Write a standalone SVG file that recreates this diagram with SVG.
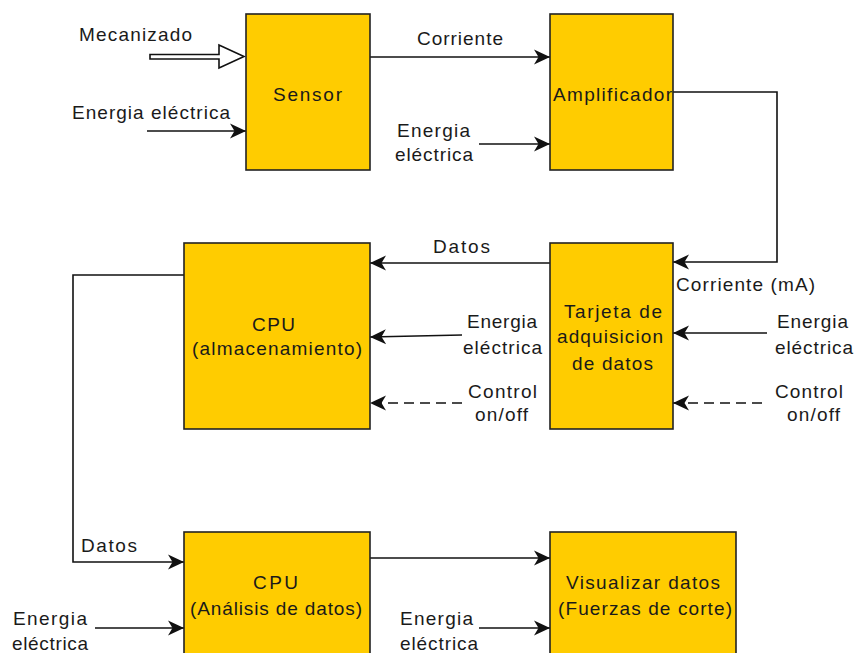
<svg xmlns="http://www.w3.org/2000/svg" width="854" height="653" viewBox="0 0 854 653">
<style>
.box{fill:#ffcc00;stroke:#222;stroke-width:1.6}
.ln{fill:none;stroke:#111;stroke-width:1.6}
.dash{stroke-dasharray:10 6}
text{font-family:"Liberation Sans",Arial,sans-serif;font-size:19px;fill:#1a1a1a}
</style>
<defs>
<marker id="ah" markerUnits="userSpaceOnUse" markerWidth="18" markerHeight="18" refX="17" refY="9" orient="auto" viewBox="0 0 18 18">
<path d="M1,1.5 L17,9 L1,16.5 L5.5,9 Z" fill="#111"/>
</marker>
</defs>
<rect width="854" height="653" fill="#fff"/>

<g id="connectors">
<path class="ln" d="M150,54.5 H219 V45 L244,56.5 L219,68 V59 H150 Z" fill="#fff"/>
<path class="ln" d="M147,131 H246" marker-end="url(#ah)"/>
<path class="ln" d="M370,57 H550" marker-end="url(#ah)"/>
<path class="ln" d="M479,144 H550" marker-end="url(#ah)"/>
<path class="ln" d="M673,92 H777 V262 H673" marker-end="url(#ah)"/>
<path class="ln" d="M550,263 H370" marker-end="url(#ah)"/>
<path class="ln" d="M462,335 L370,337" marker-end="url(#ah)"/>
<path class="ln dash" d="M462,403 H370" marker-end="url(#ah)"/>
<path class="ln" d="M767,333 H673" marker-end="url(#ah)"/>
<path class="ln dash" d="M762,403 H673" marker-end="url(#ah)"/>
<path class="ln" d="M184,275 H73 V562 H184" marker-end="url(#ah)"/>
<path class="ln" d="M370,558 H550" marker-end="url(#ah)"/>
<path class="ln" d="M95,628 H184" marker-end="url(#ah)"/>
<path class="ln" d="M479,628 H550" marker-end="url(#ah)"/>
</g>

<g id="labels">
<text x="79" y="41" textLength="113" lengthAdjust="spacing">Mecanizado</text>
<text x="72" y="119" textLength="158" lengthAdjust="spacing">Energia eléctrica</text>
<text x="417" y="45" textLength="86" lengthAdjust="spacing">Corriente</text>
<text x="397" y="137" textLength="73" lengthAdjust="spacing">Energia</text>
<text x="395" y="161" textLength="78" lengthAdjust="spacing">eléctrica</text>
<text x="433" y="253" textLength="57" lengthAdjust="spacing">Datos</text>
<text x="676" y="291" textLength="139" lengthAdjust="spacing">Corriente (mA)</text>
<text x="467" y="328" textLength="70" lengthAdjust="spacing">Energia</text>
<text x="463" y="354" textLength="79" lengthAdjust="spacing">eléctrica</text>
<text x="468" y="398" textLength="69" lengthAdjust="spacing">Control</text>
<text x="475" y="421" textLength="53" lengthAdjust="spacing">on/off</text>
<text x="777" y="328" textLength="71" lengthAdjust="spacing">Energia</text>
<text x="775" y="354" textLength="78" lengthAdjust="spacing">eléctrica</text>
<text x="775" y="398" textLength="68" lengthAdjust="spacing">Control</text>
<text x="787" y="421" textLength="53" lengthAdjust="spacing">on/off</text>
<text x="81" y="552" textLength="56" lengthAdjust="spacing">Datos</text>
<text x="13" y="625" textLength="74" lengthAdjust="spacing">Energia</text>
<text x="12" y="650" textLength="76" lengthAdjust="spacing">eléctrica</text>
<text x="400" y="625" textLength="73" lengthAdjust="spacing">Energia</text>
<text x="400" y="650" textLength="78" lengthAdjust="spacing">eléctrica</text>
</g>

<g id="sensor">
<rect class="box" x="246" y="14" width="124" height="156"/>
<text x="273" y="101" textLength="69" lengthAdjust="spacing">Sensor</text>
</g>
<g id="amplificador">
<rect class="box" x="550" y="14" width="123" height="156"/>
<text x="553" y="101" textLength="119" lengthAdjust="spacing">Amplificador</text>
</g>
<g id="tarjeta">
<rect class="box" x="550" y="243" width="123" height="186"/>
<text x="564" y="318" textLength="98" lengthAdjust="spacing">Tarjeta de</text>
<text x="557" y="343" textLength="106" lengthAdjust="spacing">adquisicion</text>
<text x="572" y="370" textLength="81" lengthAdjust="spacing">de datos</text>
</g>
<g id="cpu-almacenamiento">
<rect class="box" x="184" y="243" width="186" height="186"/>
<text x="252" y="331" textLength="43" lengthAdjust="spacing">CPU</text>
<text x="192" y="355" textLength="170" lengthAdjust="spacing">(almacenamiento)</text>
</g>
<g id="cpu-analisis">
<rect class="box" x="184" y="532" width="186" height="186"/>
<text x="253" y="589" textLength="45" lengthAdjust="spacing">CPU</text>
<text x="190" y="615" textLength="172" lengthAdjust="spacing">(Análisis de datos)</text>
</g>
<g id="visualizar">
<rect class="box" x="550" y="532" width="186" height="186"/>
<text x="566" y="589" textLength="154" lengthAdjust="spacing">Visualizar datos</text>
<text x="558" y="615" textLength="174" lengthAdjust="spacing">(Fuerzas de corte)</text>
</g>
</svg>
